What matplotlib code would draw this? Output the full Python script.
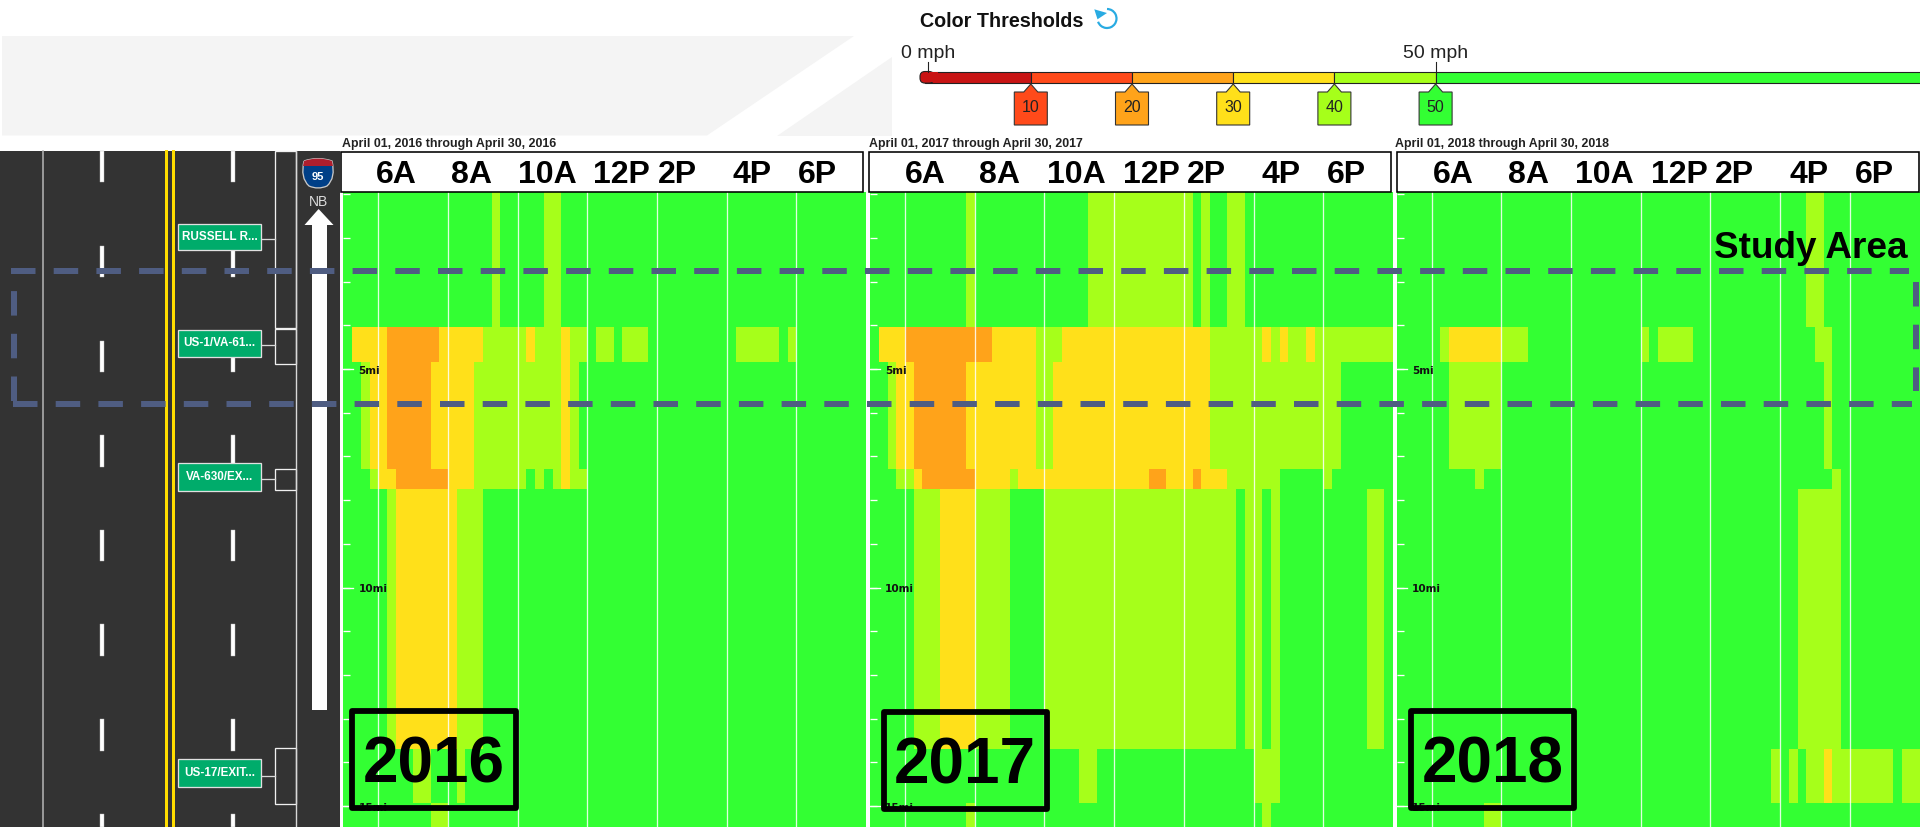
import matplotlib
matplotlib.use("Agg")
import numpy as np
import matplotlib.pyplot as plt
from matplotlib.colors import ListedColormap, BoundaryNorm
from matplotlib.patches import Rectangle, Polygon, Arc, FancyBboxPatch, PathPatch
from matplotlib.path import Path

plt.rcParams['lines.scale_dashes'] = False
plt.rcParams['font.family'] = ['Liberation Sans', 'DejaVu Sans']

# ---------------- DATA ----------------
G, L, Y, O = 55, 45, 35, 25   # representative speed (mph) of each colour band

# mile edges of the seven road segments
segment_edges = [0.95, 4.03, 4.85, 7.29, 7.75, 13.69, 14.94, 15.48]
# 15-minute bins between 5 AM and 8 PM
time_start, time_end, bins_per_hour = 5, 20, 4

runs_2016 = [
    [(G,17),(L,1),(G,5),(L,2),(G,35)],
    [(G,1),(Y,4),(O,6),(Y,5),(L,5),(Y,1),(L,3),(Y,1),(L,2),(G,1),(L,2),(G,1),(L,3),(G,10),(L,5),(G,1),(L,1),(G,8)],
    [(G,2),(L,1),(Y,2),(O,5),(Y,5),(L,10),(Y,1),(L,1),(G,33)],
    [(G,3),(L,1),(Y,2),(O,6),(Y,3),(L,6),(G,1),(L,1),(G,1),(L,1),(Y,1),(L,2),(G,32)],
    [(G,5),(L,1),(Y,7),(L,3),(G,44)],
    [(G,8),(L,2),(G,3),(L,1),(G,46)],
    [(G,10),(L,2),(G,48)],
]
runs_2017 = [
    [(G,11),(L,1),(G,13),(L,12),(G,1),(L,1),(G,2),(L,2),(G,17)],
    [(G,1),(Y,3),(O,10),(Y,5),(L,3),(Y,17),(L,6),(Y,1),(L,1),(Y,1),(L,2),(Y,1),(L,9)],
    [(G,2),(L,1),(Y,2),(O,6),(Y,8),(L,2),(Y,18),(L,15),(G,6)],
    [(G,3),(L,2),(Y,1),(O,6),(Y,4),(L,1),(Y,15),(O,2),(Y,3),(O,1),(Y,3),(L,6),(G,5),(L,1),(G,7)],
    [(G,5),(L,3),(Y,4),(L,4),(G,4),(L,22),(G,1),(L,2),(G,1),(L,1),(G,10),(L,2),(G,1)],
    [(G,24),(L,2),(G,18),(L,3),(G,13)],
    [(G,11),(L,1),(G,33),(L,1),(G,14)],
]
runs_2018 = [
    [(G,47),(L,2),(G,11)],
    [(G,5),(L,1),(Y,6),(L,3),(G,13),(L,1),(G,1),(L,4),(G,14),(L,2),(G,10)],
    [(G,6),(L,6),(G,37),(L,1),(G,10)],
    [(G,9),(L,1),(G,40),(L,1),(G,9)],
    [(G,46),(L,5),(G,9)],
    [(G,43),(L,1),(G,1),(L,1),(G,1),(L,2),(Y,1),(L,7),(G,1),(L,2)],
    [(G,10),(L,2),(G,48)],
]
years = ['2016', '2017', '2018']
hour_ticks = [6, 8, 10, 12, 14, 16, 18]
hour_labels = ['6A', '8A', '10A', '12P', '2P', '4P', '6P']
mile_labels = {5: '5mi', 10: '10mi', 15: '15mi'}

thresholds = [0, 10, 20, 30, 40, 50]
band_colors = ['#C81414', '#FF4A1A', '#FFA31A', '#FFE01A', '#A6FF1A', '#33FF33']
handle_labels = ['10', '20', '30', '40', '50']
road_signs = ['RUSSELL R...', 'US-1/VA-61...', 'VA-630/EX...', 'US-17/EXIT...']

# ---------------- LAYOUT (pixels) ----------------
W, H = 1920, 827
panel_left = [343.4, 870.2, 1396.8]
panel_width = 522.8
panel_top = 192.0
panel_bottom = 827.0
header_boxes = [(340.5, 862.5), (869, 1391), (1397, 1918.5)]
header_text_x = [
    [396, 471.5, 547.6, 621.7, 677.5, 751.8, 817.3],
    [925, 1000, 1076, 1151, 1206, 1280.6, 1346],
    [1453, 1528.6, 1604, 1679, 1734.5, 1809, 1874],
]
year_boxes = [(352, 515.5, 710.5, 807.5), (883.5, 1047, 712, 809), (1410.5, 1574, 710.5, 807.5)]
year_text = [(433.5, 765.5), (965, 767), (1493, 765.5)]
sign_boxes = [(224, 250.3), (330, 356.7), (462.7, 490.7), (759.3, 787.3)]
bracket_boxes = [(151, 327.7, 239), (329, 364.3, 345), (469.3, 490.3, 479), (748.3, 804, 775.7)]


def px(n):
    return n * 72.0 / 100.0


def expand(runs):
    return np.array([[v for v, n in row for _ in range(n)] for row in runs], dtype=float)


fig = plt.figure(figsize=(W / 100, H / 100), dpi=100, facecolor='white')


def overlay(z):
    a = fig.add_axes([0, 0, 1, 1], zorder=z)
    a.set_xlim(0, W)
    a.set_ylim(H, 0)
    a.axis('off')
    a.patch.set_alpha(0)
    return a


back = overlay(0)

# pale background shapes at the top
back.add_patch(Polygon([(2, 36), (854, 36), (707, 135.5), (2, 135.5)], closed=True, fc='#F4F4F4', ec='none'))
back.add_patch(Polygon([(891.5, 57), (891.5, 135.5), (777, 135.5)], closed=True, fc='#F4F4F4', ec='none'))

# road strip
back.add_patch(Rectangle((0, 151), 339.5, H - 151, fc='#333333', ec='none'))
back.plot([43, 43], [151, H], color='#B0B0B0', lw=px(1.6))
back.plot([295.7, 295.7], [151, H], color='#D8D8D8', lw=px(1.4))
for yellow_x in (165.7, 172.7):
    back.plot([yellow_x, yellow_x], [151, H], color='#FFDD00', lw=px(3))
for lane_x in (101.7, 232.7):
    for start, end in [(151, 182.3), (246, 276.7), (340.5, 371.7), (435, 466.7), (530, 561),
                       (624.3, 656), (719, 750.7), (814, 827)]:
        back.add_patch(Rectangle((lane_x - 2, start), 4, end - start, fc='white', ec='#BBBBBB', lw=0.3))

# segment brackets and exit signs
for (top, bot, conn), (s_top, s_bot), name in zip(bracket_boxes, sign_boxes, road_signs):
    back.add_patch(Rectangle((275.3, top), 20.4, bot - top, fc='#333333', ec='#F0F0F0', lw=px(1.3)))
    back.plot([260.7, 275.3], [conn, conn], color='#D8D8D8', lw=px(1.3))
    back.add_patch(Rectangle((178.3, s_top), 82.4, s_bot - s_top, fc='#00AC6B', ec='#E0E0E0', lw=px(1.3), zorder=3))
    back.text(219.5, (s_top + s_bot) / 2, name, color='white', ha='center', va='center', zorder=4,
              fontsize=8.4, fontweight='bold')

# direction arrow
back.add_patch(Rectangle((311.7, 225), 15, 485, fc='white', ec='none'))
back.add_patch(Polygon([(318.6, 209), (333.5, 225), (304.5, 225)], closed=True, fc='white', ec='none'))
back.text(318, 202, 'NB', color='#DDDDDD', ha='center', va='center', fontsize=10)

# interstate shield
shield = Path([(304, 161), (318, 156), (332, 161), (336, 178), (327, 186), (318, 190), (309, 186), (300, 178), (304, 161)],
              [Path.MOVETO, Path.CURVE3, Path.CURVE3, Path.CURVE3, Path.CURVE3, Path.CURVE3, Path.CURVE3, Path.CURVE3, Path.CURVE3])
shield_patch = PathPatch(shield, fc='#003F87', ec='#C8C8C8', lw=px(1.3))
back.add_patch(shield_patch)
red_top = Rectangle((300, 155), 36, 11, fc='#AF1E2D', ec='none')
back.add_patch(red_top)
red_top.set_clip_path(shield_patch)
back.text(318, 177, '95', color='white', ha='center', va='center', fontsize=8, fontweight='bold')

# threshold legend
mph_x = lambda v: 929.6 + 10.12 * v
back.text(919.5, 21.5, 'Color Thresholds', fontsize=14.2, fontweight='bold', color='#111111', va='center', ha='left')
back.add_patch(Arc((1107, 18.5), 19, 19, theta1=-90, theta2=160, color='#29ABE2', lw=px(2.2)))
back.add_patch(Polygon([(1094.3, 9.3), (1107, 13), (1097.5, 19.3)], closed=True, fc='#29ABE2', ec='none'))
stops = thresholds + [(W + 10 - 929.6) / 10.12]
for i, c in enumerate(band_colors):
    x0 = mph_x(stops[i]) if i else 925
    back.barh(77.3, mph_x(stops[i + 1]) - x0, left=x0, height=11.5, color=c, edgecolor='#222222', lw=px(1.1))
back.add_patch(FancyBboxPatch((920, 71.5), 14, 11.6, boxstyle='round,pad=0,rounding_size=5', fc=band_colors[0], ec='#222222', lw=px(1.1)))
back.add_patch(Rectangle((926, 72.2), 12, 10.2, fc=band_colors[0], ec='none'))
for v, lab in [(0, '0 mph'), (50, '50 mph')]:
    tx = mph_x(v) - (1.6 if v == 0 else 0)
    back.plot([tx, tx], [62, 71.5], color='#222222', lw=px(1.1))
    back.text(tx, 53, lab, fontsize=14, color='#222222', ha='center', va='center')
for v, lab, c in zip(thresholds[1:], handle_labels, band_colors[1:]):
    x = mph_x(v)
    back.add_patch(Polygon([(x, 84), (x + 7, 92), (x + 16.5, 92), (x + 16.5, 125), (x - 16.5, 125), (x - 16.5, 92), (x - 7, 92)],
                           closed=True, fc=c, ec='#333333', lw=px(1.1)))
    back.text(x, 107, lab, fontsize=11.5, color='#222222', ha='center', va='center')

# ---------------- PANELS ----------------
cmap = ListedColormap(band_colors[2:])
norm = BoundaryNorm([20, 30, 40, 50, 60], cmap.N)
mile_ticks = list(range(1, 16))
px_per_mile = 43.7
first_mile_px = 150.5
edges_t = np.arange(time_start, time_end + 1e-9, 1 / bins_per_hour)
ylim_top = (panel_top - first_mile_px) / px_per_mile
ylim_bot = (panel_bottom - first_mile_px) / px_per_mile

for left, year, runs in zip(panel_left, years, (runs_2016, runs_2017, runs_2018)):
    ax = fig.add_axes([left / W, 1 - panel_bottom / H, panel_width / W, (panel_bottom - panel_top) / H], zorder=1)
    ax.pcolormesh(edges_t, segment_edges, expand(runs), cmap=cmap, norm=norm, shading='flat', linewidth=0)
    ax.set_xlim(time_start, time_end)
    ax.set_ylim(ylim_bot, ylim_top)
    for s in ax.spines.values():
        s.set_visible(False)
    ax.set_xticks(hour_ticks)
    ax.tick_params(axis='x', length=0, labelbottom=False)
    ax.grid(axis='x', color='white', lw=px(1.3), alpha=0.85)
    ax.set_axisbelow(False)
    ax.set_yticks(mile_ticks)
    ax.tick_params(axis='y', direction='in', color='white', width=px(1.3), length=px(7), labelleft=False)
    for m, lab in mile_labels.items():
        ax.plot([time_start, time_start + 10 / panel_width * 15], [m, m], color='white', lw=px(1.3))
        ax.annotate(lab, (time_start, m), xytext=(px(15), px(-2)), textcoords='offset points',
                    fontsize=7.6, fontweight='bold', family='DejaVu Sans', color='#111111', va='center', ha='left')

# ---------------- FOREGROUND ----------------
front = overlay(2)
for i, year in enumerate(years):
    x0, x1 = header_boxes[i]
    front.add_patch(Rectangle((x0, 152), x1 - x0, 39.5, fc='white', ec='black', lw=px(1.6)))
    for tx, lab in zip(header_text_x[i], hour_labels):
        front.text(tx, 175, lab, fontsize=23, fontweight='bold', color='black', ha='center', va='center')
    front.text(panel_left[i] - 1.5, 144, f'April 01, {year} through April 30, {year}', fontsize=8.95,
               color='#222222', ha='left', va='center', fontweight='bold')
    bx0, bx1, by0, by1 = year_boxes[i]
    front.add_patch(Rectangle((bx0, by0), bx1 - bx0, by1 - by0, fc='none', ec='black', lw=px(5.8), joinstyle='round'))
    front.text(year_text[i][0], year_text[i][1], year, fontsize=46, fontweight='bold', color='black', ha='center', va='center')

front.text(1714, 258, 'Study Area', fontsize=26.6, fontweight='bold', color='black', ha='left', va='baseline')

dash = (px(24.5), px(18.2))
study_color = '#4F5D82'
for xs, ys in [((11, 1909), (271, 271)), ((13, 1912), (403.7, 403.7)),
               ((13.5, 13.5), (401, 289)), ((1916, 1916), (281.7, 391))]:
    front.plot(xs, ys, color=study_color, lw=px(6), dashes=dash, dash_capstyle='butt')

fig.savefig('out.png', dpi=100, facecolor='white')
